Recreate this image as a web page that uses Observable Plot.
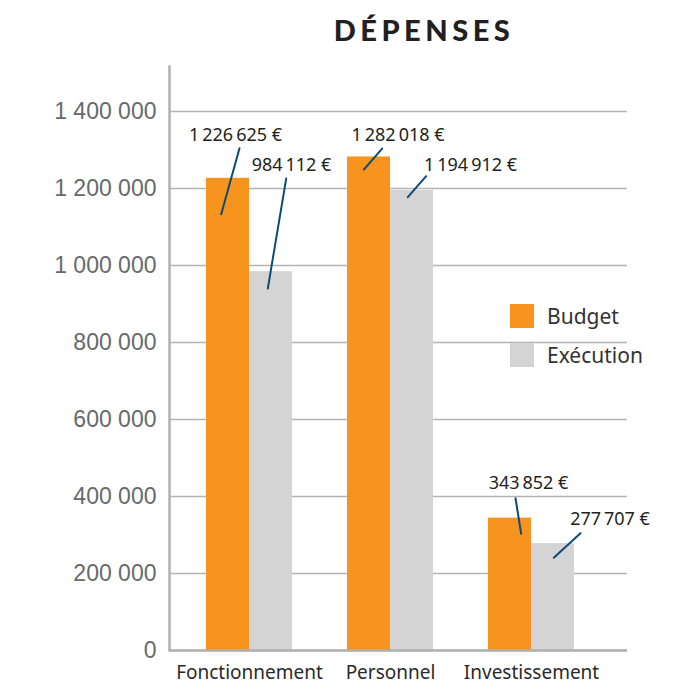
<!DOCTYPE html>
<html>
<head>
<meta charset="utf-8">
<script src="https://cdn.jsdelivr.net/npm/d3@7"></script>
<script src="https://cdn.jsdelivr.net/npm/@observablehq/plot@0.6"></script>
<style>
  html, body { margin: 0; padding: 0; background: #fff; }
  #wrap { position: relative; width: 680px; height: 685px; }
  #title { position: absolute; left: 168px; width: 512px; top: 0; height: 60px; line-height: 60px;
           text-align: center; font-family: Lato, "Open Sans", sans-serif; font-weight: 900;
           font-size: 29px; letter-spacing: 4.5px; color: #231f20; }
  #chart { position: absolute; left: 0; top: 60px; }
  #legend { position: absolute; left: 510px; top: 304px; font-family: "Noto Sans", sans-serif;
            font-size: 21px; color: #333; }
  .item { display: flex; align-items: center; height: 24px; margin-bottom: 15px; }
  .sw { width: 24px; height: 24px; margin-right: 13px; }
</style>
</head>
<body>
<div id="wrap">
  <div id="title">DÉPENSES</div>
  <div id="chart"></div>
  <div id="legend"></div>
</div>
<script>
const categories = ["Fonctionnement", "Personnel", "Investissement"];
const series = ["Budget", "Exécution"];
const budget = [1226625, 1282018, 343852];
const execution = [984112, 1194912, 277707];
const yTicks = [0, 200000, 400000, 600000, 800000, 1000000, 1200000, 1400000];

const colors = {"Budget": "#f7941d", "Exécution": "#d4d4d4"};

// label / leader offsets (pixels, relative to group centre and bar top)
const annotStyle = {
  "Budget": [
    {lx: -14, ly: -43, sx: -28.3, sy: 36, len: 68.5, rot: 15.5},
    {lx: 7.5, ly: -21.4, sx: -26.7, sy: 12.6, len: 27.9, rot: 41.2},
    {lx: -3, ly: -34.6, sx: -10.3, sy: 15.7, len: 36, rot: -9.1}
  ],
  "Exécution": [
    {lx: 42, ly: -106, sx: 18.3, sy: 16.9, len: 111.5, rot: 9.5},
    {lx: 80, ly: -25, sx: 17.3, sy: 6.7, len: 27.9, rot: 41.2},
    {lx: 78.5, ly: -24, sx: 22.3, sy: 14.2, len: 36.3, rot: 47.3}
  ]
};

const rows = [];
categories.forEach((c, i) => {
  rows.push({category: c, series: "Budget", value: budget[i], idx: i});
  rows.push({category: c, series: "Exécution", value: execution[i], idx: i});
});

const fmtAxis = d => d3.format(",")(d).replace(/,/g, " ");
const fmtVal = d => d3.format(",")(d).replace(/,/g, "\u2009") + "\u00A0€";

const annotMarks = [];
rows.forEach(r => {
  const a = annotStyle[r.series][r.idx];
  annotMarks.push(Plot.vector([r], {
    x: "category", y: "value", dx: a.sx, dy: a.sy,
    length: a.len, rotate: a.rot, anchor: "start",
    shape: {draw(ctx, l) { ctx.moveTo(0, 0); ctx.lineTo(0, -l); }},
    stroke: "#0c4b75", strokeWidth: 2
  }));
  annotMarks.push(Plot.text([r], {
    x: "category", y: "value", dx: a.lx, dy: a.ly,
    text: d => fmtVal(d.value),
    fontSize: 18, fill: "#231f20", fontFamily: "Noto Sans"
  }));
});

const plot = Plot.plot({
  width: 680,
  height: 625,
  marginLeft: 169,
  marginRight: 53,
  marginTop: 6,
  marginBottom: 35,
  style: {fontFamily: "Noto Sans", background: "transparent"},
  x: {domain: categories, paddingInner: 0.39, paddingOuter: 0.319, align: 0.411, label: null},
  y: {domain: [0, 1517000], ticks: yTicks, label: null},
  marks: [
    Plot.gridY(yTicks, {stroke: "#b3b3b3", strokeOpacity: 1, strokeWidth: 1.5}),
    Plot.barY(rows.filter(d => d.series === "Budget"), {x: "category", y: "value", fill: colors["Budget"], insetRight: 43, insetLeft: 0}),
    Plot.barY(rows.filter(d => d.series === "Exécution"), {x: "category", y: "value", fill: colors["Exécution"], insetLeft: 43, insetRight: 0}),
    Plot.frame({anchor: "left", stroke: "#b0b0b0", strokeWidth: 2.5}),
    Plot.ruleY([0], {stroke: "#b0b0b0", strokeWidth: 2.5}),
    Plot.axisY(yTicks, {tickSize: 0, tickPadding: 13, tickFormat: fmtAxis, fontSize: 23,
      color: "#666a6a", fontFamily: "Liberation Sans", label: null, style: {letterSpacing: "0.8px"}}),
    Plot.axisX({tickSize: 0, tickPadding: 15, fontSize: 19, color: "#2a2a2a", label: null}),
    ...annotMarks
  ]
});
document.getElementById("chart").appendChild(plot);

const legend = document.getElementById("legend");
series.forEach(s => {
  const it = document.createElement("div");
  it.className = "item";
  const sw = document.createElement("div");
  sw.className = "sw";
  sw.style.background = colors[s];
  const t = document.createElement("span");
  t.textContent = s;
  it.appendChild(sw); it.appendChild(t);
  legend.appendChild(it);
});
</script>
</body>
</html>
